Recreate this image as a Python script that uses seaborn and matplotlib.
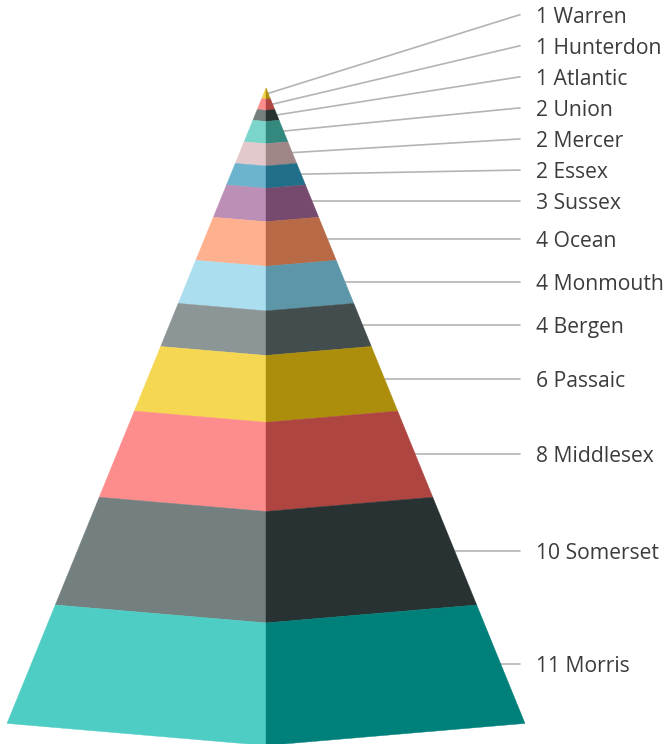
import numpy as np
import pandas as pd
import matplotlib
matplotlib.use("Agg")
import matplotlib.pyplot as plt
import seaborn as sns

# top of the pyramid first
counties = ['Warren', 'Hunterdon', 'Atlantic', 'Union', 'Mercer', 'Essex', 'Sussex',
            'Ocean', 'Monmouth', 'Bergen', 'Passaic', 'Middlesex', 'Somerset', 'Morris']
values = [1, 1, 1, 2, 2, 2, 3, 4, 4, 4, 6, 8, 10, 11]
left_colors = ['#F2D04E', '#FD8C8C', '#73807F', '#7CD5CA', '#E3C9CC', '#6CB4CD', '#BC90B6',
               '#FFB08F', '#ABDFF0', '#8C9697', '#F5D752', '#FD8C8C', '#73807F', '#4ECDC4']
right_colors = ['#AD8E0C', '#AF4540', '#283233', '#34897F', '#A08687', '#226F89', '#764A6E',
                '#B76A45', '#5C96A8', '#434D4E', '#AD8E0C', '#AF4540', '#283233', '#00807A']

W, H = 669, 744
APEX_X, APEX_Y = 266, 88      # pixels
HALF_BASE = 259               # pixels
PX_PER_UNIT = 10.77           # pixels of height per count
TILT = 0.0347                 # how far the front edge sags below the sides
LABEL_GAP = 2.885             # min. spacing of labels in count units
LINE_END = (520 - APEX_X) / HALF_BASE
LABEL_X = (536 - APEX_X) / HALF_BASE

sns.set_style("white")
plt.rcParams['font.family'] = ['Open Sans', 'DejaVu Sans']

cum = np.cumsum(values)
start = cum - np.array(values)
total = cum[-1]
mid = (start + cum) / 2

# labels slide upward when the thin layers would collide
label_y = mid.astype(float).copy()
for i in range(len(values) - 2, -1, -1):
    label_y[i] = min(label_y[i], label_y[i + 1] - LABEL_GAP)

fig = plt.figure(figsize=(W / 100, H / 100), dpi=100)
ax = fig.add_axes([0, 0, 1, 1])

for c0, c1, lc, rc in zip(start, cum, left_colors, right_colors):
    w0, w1 = c0 / total, c1 / total
    ax.fill([-w0, 0, 0, -w1], [c0, c0 * (1 + TILT), c1 * (1 + TILT), c1], color=lc, lw=0.3)
    ax.fill([w0, 0, 0, w1], [c0, c0 * (1 + TILT), c1 * (1 + TILT), c1], color=rc, lw=0.3)

lines = pd.DataFrame({
    'county': counties * 2,
    'x': list(mid / total) + [LINE_END] * len(counties),
    'y': list(mid) + list(label_y),
})
sns.lineplot(data=lines, x='x', y='y', units='county', estimator=None, sort=False,
             color='#b4b4b4', linewidth=1.2, legend=False, ax=ax, zorder=0)

for name, v, y in zip(counties, values, label_y):
    ax.text(LABEL_X, y + 0.25, f'{v} {name}', fontsize=15.2, color='#3c3c3c', va='center', ha='left')

ax.set_xlim(-APEX_X / HALF_BASE, (W - APEX_X) / HALF_BASE)
ax.set_ylim((H - APEX_Y) / PX_PER_UNIT, -APEX_Y / PX_PER_UNIT)
ax.axis('off')

fig.savefig('out.png', dpi=100)
